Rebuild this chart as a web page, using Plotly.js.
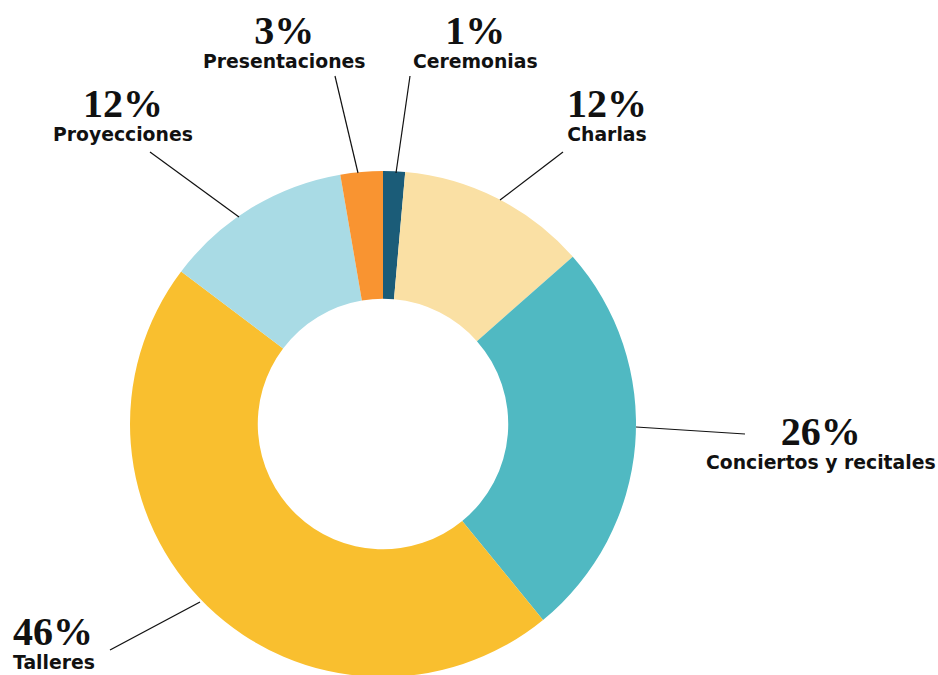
<!DOCTYPE html>
<html>
<head>
<meta charset="utf-8">
<script src="https://cdn.plot.ly/plotly-3.0.1.min.js"></script>
<style>
html,body{margin:0;padding:0;overflow:hidden;background:#fff;}
#chart{width:938px;height:678px;}
</style>
</head>
<body>
<div id="chart"></div>
<script>
// ---- data ----
var categories = ["Ceremonias", "Charlas", "Conciertos y recitales", "Talleres", "Proyecciones", "Presentaciones"];
var shares = [1.4, 12.1, 25.6, 46.2, 12.0, 2.7];
var shareLabels = ["1%", "12%", "26%", "46%", "12%", "3%"];
var colors = ["#1b5c78", "#fae0a4", "#50b9c2", "#f9bf2f", "#a9dbe5", "#f99431"];

// ---- layout helpers (pixel placement of callouts) ----
var W = 938, H = 678;
function px(x){ return x / W; }
function py(y){ return 1 - y / H; }

// label placement: [labelX, labelMidY, anchor, leaderFromX, leaderFromY, leaderToX, leaderToY]
var place = [
  [475, 40, "center", 396, 173, 410, 76],
  [607, 113, "center", 500, 200, 563, 152],
  [821, 441, "center", 636, 427, 745, 434],
  [11, 641, "left", 200, 602, 110, 650],
  [123, 113, "center", 239, 217, 150, 152],
  [284, 40, "center", 358, 173, 335, 76]
];

var annotations = [];
var shapes = [];
for (var i = 0; i < categories.length; i++) {
  var p = place[i];
  annotations.push({
    xref: "paper", yref: "paper", x: px(p[0]), y: py(p[1]),
    xanchor: p[2], yanchor: "middle", showarrow: false, align: p[2],
    text: "<span style='font-family:Liberation Serif, serif;font-size:40px'><b>" + shareLabels[i] +
          "</b></span><br><b>" + categories[i] + "</b>",
    font: {family: "DejaVu Sans, sans-serif", size: 18.8, color: "#111"}
  });
  shapes.push({
    type: "line", xref: "paper", yref: "paper",
    x0: px(p[3]), y0: py(p[4]), x1: px(p[5]), y1: py(p[6]),
    line: {color: "#111", width: 1.2}
  });
}

var trace = {
  type: "pie",
  labels: categories,
  values: shares,
  marker: {colors: colors, line: {width: 0}},
  hole: 0.495,
  sort: false,
  direction: "clockwise",
  rotation: 0,
  textinfo: "none",
  hoverinfo: "skip",
  showlegend: false,
  domain: {x: [130 / W, 636 / W], y: [1 / H, 1 - 171 / H]}
};

var layout = {
  width: W, height: H,
  margin: {l: 0, r: 0, t: 0, b: 0},
  paper_bgcolor: "#ffffff",
  plot_bgcolor: "#ffffff",
  showlegend: false,
  annotations: annotations,
  shapes: shapes
};

Plotly.newPlot("chart", [trace], layout, {displayModeBar: false, staticPlot: true});
</script>
</body>
</html>
